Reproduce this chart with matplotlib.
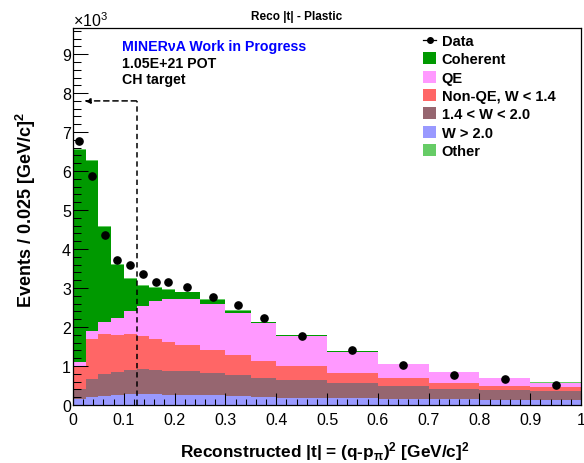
import numpy as np
import matplotlib
matplotlib.use("Agg")
import matplotlib.pyplot as plt
from matplotlib.patches import Patch
from matplotlib.lines import Line2D
from matplotlib.ticker import MultipleLocator, FuncFormatter

plt.rcParams["font.family"] = ["Liberation Sans", "DejaVu Sans"]
plt.rcParams["mathtext.fontset"] = "custom"
plt.rcParams["mathtext.rm"] = "Liberation Sans"
plt.rcParams["mathtext.bf"] = "Liberation Sans:bold"
plt.rcParams["mathtext.it"] = "Liberation Sans:italic"

# Variable-width |t| binning [GeV/c]^2
bin_edges = [0.0, 0.025, 0.05, 0.075, 0.1, 0.125, 0.15, 0.175, 0.2,
             0.25, 0.3, 0.35, 0.4, 0.5, 0.6, 0.7, 0.8, 0.9, 1.0]

# Events / 0.025 [GeV/c]^2 per category
w_gt_20 = [150, 210, 240, 250, 270, 280, 270, 260, 260, 250, 240, 200, 190, 180, 160, 150, 140, 120]
w_14_20 = [250, 450, 550, 600, 640, 650, 630, 620, 600, 570, 520, 500, 440, 380, 330, 270, 240, 230]
nonqe_w14 = [610, 1040, 1030, 950, 900, 830, 800, 740, 690, 600, 510, 430, 360, 250, 200, 150, 120, 100]
qe = [90, 190, 300, 420, 590, 770, 960, 1090, 1160, 1160, 1090, 970, 790, 560, 360, 270, 190, 110]
coherent = [5440, 4380, 2440, 1380, 830, 530, 340, 240, 180, 110, 60, 20, 10, 5, 0, 0, 0, 0]
other = [20, 20, 20, 20, 20, 20, 20, 20, 20, 20, 20, 20, 10, 10, 10, 10, 10, 30]

data = [6770, 5880, 4360, 3730, 3600, 3350, 3160, 3150, 3020, 2770, 2560, 2230, 1780, 1410, 1020, 780, 660, 510]

cut_t = 0.125
cut_top = 7800

stack = [
    ("W > 2.0", w_gt_20, "#9999ff"),
    ("1.4 < W < 2.0", w_14_20, "#966670"),
    ("Non-QE, W < 1.4", nonqe_w14, "#ff6666"),
    ("QE", qe, "#ff99ff"),
    ("Coherent", coherent, "#009900"),
    ("Other", other, "#66cc66"),
]

scale = 1e-3
edges = np.array(bin_edges)
centers = 0.5 * (edges[:-1] + edges[1:])

fig = plt.figure(figsize=(5.84, 4.64), dpi=100)
ax = fig.add_axes([73 / 584, 1 - 406 / 464, 508 / 584, 377 / 464])

base = np.zeros(len(centers))
for name, vals, col in stack:
    top = base + np.array(vals) * scale
    ax.stairs(top, edges, baseline=base, fill=True, color=col, lw=0, zorder=1)
    base = top

ax.plot(centers, np.array(data) * scale, "o", color="black", ms=5.2, zorder=4)

# selection cut marker
ax.plot([cut_t, cut_t], [0, cut_top * scale], ls=(0, (3.5, 2.5)), color="black", lw=1.1, zorder=5)
ax.annotate("", xy=(0.022, cut_top * scale), xytext=(cut_t, cut_top * scale),
            arrowprops=dict(arrowstyle="-|>,head_length=0.35,head_width=0.15",
                            ls=(0, (3.5, 2.5)), color="black", lw=1.1, shrinkA=0, shrinkB=0),
            zorder=5)

ax.set_xlim(0, 1)
ax.set_ylim(0, 9.67)
ax.xaxis.set_major_locator(MultipleLocator(0.1))
ax.xaxis.set_minor_locator(MultipleLocator(0.02))
ax.yaxis.set_major_locator(MultipleLocator(1))
ax.yaxis.set_minor_locator(MultipleLocator(0.2))
ax.xaxis.set_major_formatter(FuncFormatter(lambda v, p: "0" if abs(v) < 1e-9 else ("1" if abs(v - 1) < 1e-9 else f"{v:.1f}")))
ax.tick_params(axis="x", which="major", direction="in", length=8.5, width=0.75, labelsize=11.5, pad=5)
ax.tick_params(axis="x", which="minor", direction="in", length=4.3, width=0.75)
ax.tick_params(axis="y", which="major", direction="in", length=10.5, width=0.75, labelsize=11.5, pad=1.5)
ax.tick_params(axis="y", which="minor", direction="in", length=5.4, width=0.75)
for s in ax.spines.values():
    s.set_linewidth(0.9)

fig.text(73 / 584, 1 - 27 / 464, r"$\times$10$^{3}$", fontsize=11.5, ha="left", va="baseline")
fig.text(297 / 584, 1 - 17 / 464, "Reco |t| - Plastic", fontsize=8.5, fontweight="bold", ha="center", va="center")

fig.text(122 / 584, 1 - 47 / 464, "MINERνA Work in Progress", color="#0000ff", fontsize=10.2,
         fontweight="bold", ha="left", va="center")
fig.text(122 / 584, 1 - 64 / 464, "1.05E+21 POT", fontsize=10.2, fontweight="bold", ha="left", va="center")
fig.text(122 / 584, 1 - 80 / 464, "CH target", fontsize=10.2, fontweight="bold", ha="left", va="center")

fig.text(325 / 584, 1 - 452 / 464,
         r"Reconstructed |t| = (q-p$_{\mathbf{π}}$)$^{\mathbf{2}}$ [GeV/c]$^{\mathbf{2}}$",
         fontsize=12.4, fontweight="bold", ha="center", va="center")
fig.text(26 / 584, 1 - 210 / 464, r"Events / 0.025 [GeV/c]$^{\mathbf{2}}$",
         fontsize=13, fontweight="bold", ha="center", va="center", rotation=90)

handles = [Line2D([], [], color="black", marker="o", ms=4, lw=0.9)]
labels = ["Data"]
for name in ["Coherent", "QE", "Non-QE, W < 1.4", "1.4 < W < 2.0", "W > 2.0", "Other"]:
    col = [c for n, v, c in stack if n == name][0]
    handles.append(Patch(facecolor=col, edgecolor="none"))
    labels.append(name)
leg = fig.legend(handles, labels, loc="upper left", bbox_to_anchor=(423 / 584, 1 - 35 / 464),
                 frameon=False, borderpad=0, borderaxespad=0, handlelength=0.9, handleheight=0.9,
                 handletextpad=0.38, labelspacing=0.29, prop=dict(weight="bold", size=10.5))

fig.savefig("out.png", dpi=100)
